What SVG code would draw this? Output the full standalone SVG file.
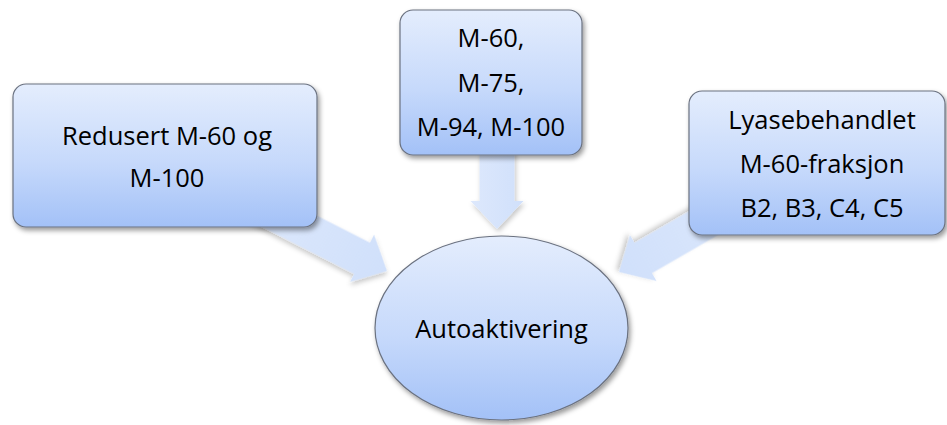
<svg xmlns="http://www.w3.org/2000/svg" width="947" height="425" viewBox="0 0 947 425">
  <defs>
    <linearGradient id="nodeFill" x1="0" y1="0" x2="0" y2="1">
      <stop offset="0" stop-color="#e4edfd"/>
      <stop offset="0.55" stop-color="#c6d9fb"/>
      <stop offset="1" stop-color="#a3c1f7"/>
    </linearGradient>
    <linearGradient id="arrowFill" x1="0" y1="0" x2="1" y2="0">
      <stop offset="0" stop-color="#dde8fc"/>
      <stop offset="1" stop-color="#d0e0fb"/>
    </linearGradient>
    <filter id="shadow" x="-20%" y="-20%" width="140%" height="150%">
      <feDropShadow dx="2" dy="3" stdDeviation="2.5" flood-color="#000" flood-opacity="0.4"/>
    </filter>
    <filter id="arrowShadow" x="-20%" y="-20%" width="140%" height="150%">
      <feDropShadow dx="1.5" dy="3" stdDeviation="2.5" flood-color="#000" flood-opacity="0.22"/>
    </filter>
    <!-- block arrow pointing along +x, tip at the origin -->
    <polygon id="blockArrow" points="-160,-17.5 -28,-17.5 -28,-26.5 0,0 -28,26.5 -28,17.5 -160,17.5"/>
  </defs>
  <style>
    .node { fill: url(#nodeFill); stroke: #6b7280; stroke-width: 1.2; filter: url(#shadow); }
    .arrow { fill: url(#arrowFill); filter: url(#arrowShadow); }
    .label { font-family: "Open Sans", "Liberation Sans", sans-serif; font-size: 25.5px; fill: #000; text-anchor: middle; }
  </style>

  <rect width="947" height="425" fill="#ffffff"/>

  <g id="connectors">
    <use href="#blockArrow" class="arrow" transform="translate(387,271) rotate(27)"/>
    <polygon class="arrow" points="479.5,149 514.5,149 514.5,201 523.5,201 497,229 470.5,201 479.5,201"/>
    <use href="#blockArrow" class="arrow" transform="translate(619,272) rotate(150)"/>
  </g>

  <g id="node-redusert">
    <rect class="node" x="13" y="84" width="304" height="143" rx="13"/>
    <text class="label" x="167" y="145">Redusert M-60 og</text>
    <text class="label" x="167" y="187">M-100</text>
  </g>

  <g id="node-m-series">
    <rect class="node" x="400" y="10" width="182" height="145" rx="13"/>
    <text class="label" x="491" y="47">M-60,</text>
    <text class="label" x="491" y="92">M-75,</text>
    <text class="label" x="491" y="136">M-94, M-100</text>
  </g>

  <g id="node-lyase">
    <rect class="node" x="689" y="91" width="256" height="144" rx="13"/>
    <text class="label" x="822" y="129">Lyasebehandlet</text>
    <text class="label" x="822" y="173">M-60-fraksjon</text>
    <text class="label" x="822" y="217">B2, B3, C4, C5</text>
  </g>

  <g id="node-autoaktivering">
    <ellipse class="node" cx="501.5" cy="328" rx="126.5" ry="92"/>
    <text class="label" x="501.5" y="338">Autoaktivering</text>
  </g>
</svg>
